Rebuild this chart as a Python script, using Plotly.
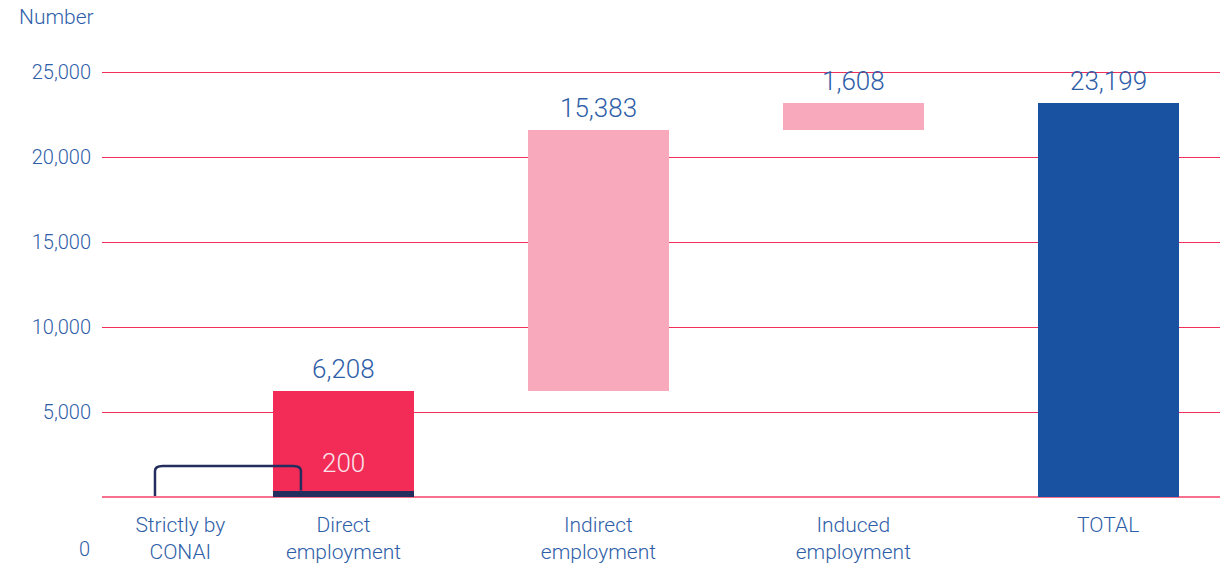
import plotly.graph_objects as go

categories = ["Direct<br>employment", "Indirect<br>employment", "Induced<br>employment", "TOTAL"]
values = [6208, 15383, 1608, 23199]
conai_label = "Strictly by<br>CONAI"
conai_value = 200
ytick_vals = [5000, 10000, 15000, 20000, 25000]

x_pos = [1, 2, 3, 4]
conai_x = 0.36
bases = [0, values[0], values[0] + values[1], 0]
colors = ["#f22b57", "#f9a9bc", "#f9a9bc", "#1a52a2"]
txt_color = "#2f5ea8"
font_family = "Roboto"
bw = 0.553

fig = go.Figure()
fig.add_trace(go.Bar(x=x_pos, y=values, base=bases, width=bw, marker=dict(color=colors, line=dict(width=0)),
                     hoverinfo="skip", showlegend=False))
# CONAI dark bar
fig.add_trace(go.Bar(x=[x_pos[0]], y=[conai_value], base=[0], width=bw - 0.024,
                     marker=dict(color="#232e5e", line=dict(color="#232e5e", width=6)),
                     hoverinfo="skip", showlegend=False))

ann = []
for xi, v, b in zip(x_pos, values, bases):
    ann.append(dict(x=xi, y=b + v, xref="x", yref="y", text=f"{v:,}", showarrow=False,
                    yanchor="bottom", yshift=5, font=dict(size=26, color=txt_color, family=font_family, weight=300)))
ann.append(dict(x=x_pos[0], y=2000, xref="x", yref="y", text=f"{conai_value}", showarrow=False,
                font=dict(size=26, color="#fbe3ea", family=font_family, weight=300)))
ann.append(dict(x=0, y=1.0, xref="paper", yref="paper", text="Number", showarrow=False,
                xanchor="left", yanchor="middle", yshift=38, xshift=-85,
                font=dict(size=21, color=txt_color, family=font_family, weight=300)))
ann.append(dict(x=0, y=0, xref="paper", yref="paper", text="0", showarrow=False,
                xanchor="right", yanchor="middle", xshift=-10, yshift=-52,
                font=dict(size=20, color=txt_color, family=font_family, weight=300)))

# bracket
xl, xr, yt = 0.2605, 0.833, 1824
r = 0.03
ry = 300
path = (f"M {xl},{60} L {xl},{yt-ry} Q {xl},{yt} {xl+r},{yt} "
        f"L {xr-r},{yt} Q {xr},{yt} {xr},{yt-ry} L {xr},{380}")
shapes = [dict(type="path", path=path, xref="x", yref="y", line=dict(color="#232e5e", width=2.5))]

fig.update_layout(
    width=1228, height=563,
    margin=dict(l=94, r=14, t=47, b=74),
    paper_bgcolor="white", plot_bgcolor="white",
    barmode="overlay", bargap=0, annotations=ann, shapes=shapes,
    font=dict(family=font_family, color=txt_color),
)
fig.update_xaxes(range=[0.0526, 4.4466], tickmode="array",
                 tickvals=[conai_x] + x_pos, ticktext=[conai_label] + categories,
                 showgrid=False, zeroline=False, showline=False, ticks="", automargin=False,
                 tickfont=dict(size=21, color=txt_color, family=font_family, weight=300), ticklabelstandoff=13)
fig.update_yaxes(range=[0, 26000], tickmode="array", tickvals=ytick_vals,
                 ticktext=[f"{v:,}" for v in ytick_vals], automargin=False,
                 showgrid=True, gridcolor="#f0305a", gridwidth=1.3,
                 zeroline=True, zerolinecolor="#f7708e", zerolinewidth=1.5,
                 tickfont=dict(size=20, color=txt_color, family=font_family, weight=300),
                 ticklabelstandoff=10, showline=False, ticks="")

fig.write_html("out.html")
